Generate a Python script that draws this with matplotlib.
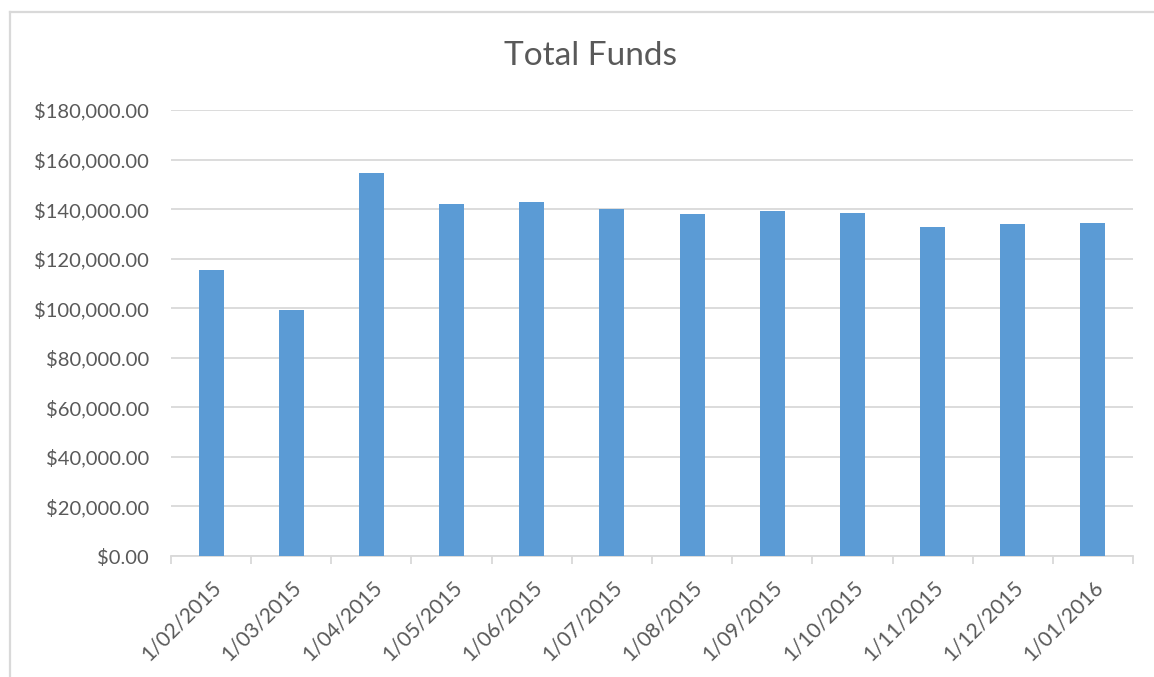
import numpy as np
import matplotlib.pyplot as plt
from matplotlib.ticker import FuncFormatter, FixedLocator
from matplotlib.lines import Line2D

plt.rcParams['font.family'] = ['Lato', 'DejaVu Sans']

dates = ["1/02/2015", "1/03/2015", "1/04/2015", "1/05/2015", "1/06/2015", "1/07/2015",
         "1/08/2015", "1/09/2015", "1/10/2015", "1/11/2015", "1/12/2015", "1/01/2016"]
funds = [115400, 99350, 154500, 142100, 142800, 140200,
         138200, 139400, 138500, 132800, 134150, 134300]

txt = '#595959'
grid = '#D9D9D9'

W, H = 1154, 677
fig = plt.figure(figsize=(W / 100, H / 100), dpi=100)
ax = fig.add_axes([171/W, 1 - 556/H, (1133-171)/W, (556-110)/H])

# chart border (only top and left edges visible in the crop)
fig.add_artist(Line2D([10/W, 10/W], [0, 1 - 11.5/H], transform=fig.transFigure,
                      color=grid, lw=1.6))
fig.add_artist(Line2D([10/W, 1], [1 - 11.5/H, 1 - 11.5/H], transform=fig.transFigure,
                      color=grid, lw=1.6))

x = np.arange(len(dates))
ax.bar(x, funds, width=0.31, color='#5B9BD5', zorder=3)

ax.set_xlim(-0.5, len(dates) - 0.5)
ax.set_ylim(0, 180000)
ax.set_yticks(np.arange(0, 180001, 20000))
ax.yaxis.set_major_formatter(FuncFormatter(lambda v, p: f"${v:,.2f}"))
ax.grid(axis='y', color=grid, lw=1.3, zorder=0)

ax.set_xticks(x)
ax.set_xticklabels(dates, rotation=45, ha='right', rotation_mode='anchor')
ax.xaxis.set_minor_locator(FixedLocator(np.arange(-0.5, len(dates), 1)))
ax.tick_params(axis='x', which='major', length=0, pad=15, labelsize=15, labelcolor=txt)
ax.tick_params(axis='x', which='minor', length=6, color=grid, width=1.3)
ax.tick_params(axis='y', length=0, pad=16, labelsize=14.5, labelcolor=txt)

for s in ['top', 'right', 'left']:
    ax.spines[s].set_visible(False)
ax.spines['bottom'].set_color(grid)
ax.spines['bottom'].set_linewidth(1.3)

fig.text(590/W, 1 - 56/H, "Total Funds", ha='center', va='center',
         fontsize=24, color=txt)

fig.savefig('out.png', dpi=100)
